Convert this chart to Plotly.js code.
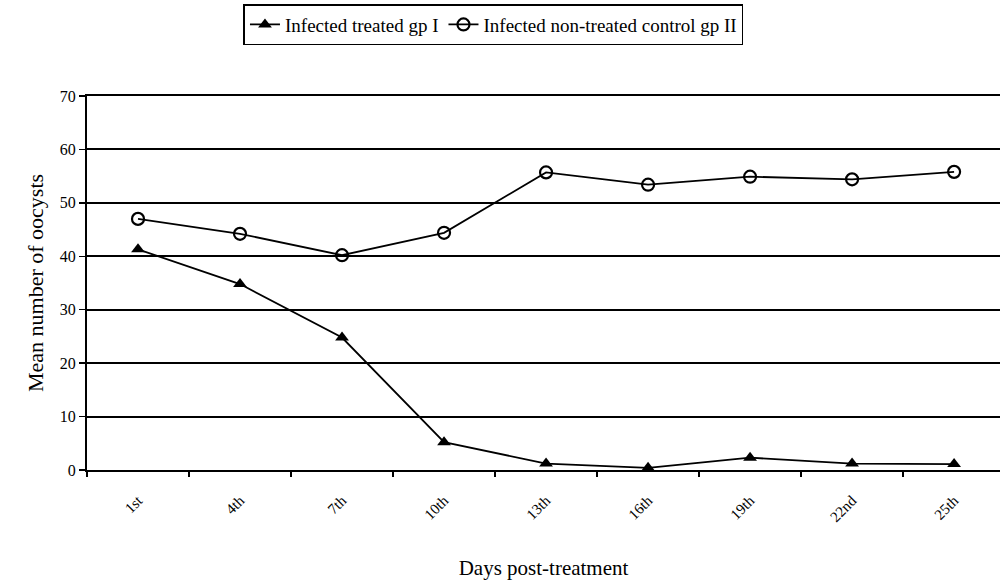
<!DOCTYPE html>
<html>
<head>
<meta charset="utf-8">
<script src="https://cdn.plot.ly/plotly-3.0.1.min.js"></script>
<style>html,body{margin:0;padding:0;background:#fff;}</style>
</head>
<body>
<div id="chart" style="width:1003px;height:588px;"></div>
<script>
const days = ["1st", "4th", "7th", "10th", "13th", "16th", "19th", "22nd", "25th"];
const treatedGpI = [41.3, 34.8, 24.8, 5.2, 1.2, 0.4, 2.3, 1.2, 1.1];
const controlGpII = [47.0, 44.2, 40.2, 44.4, 55.7, 53.4, 54.9, 54.4, 55.8];
const seriesNames = ["Infected treated gp I", "Infected non-treated control gp II"];

const serif = "'Liberation Serif', 'Times New Roman', serif";

const traces = [
  {
    x: days, y: treatedGpI, name: seriesNames[0], type: "scatter", mode: "lines+markers",
    line: {color: "#000", width: 1.8},
    marker: {symbol: "triangle-up", size: 12, color: "#000"}
  },
  {
    x: days, y: controlGpII, name: seriesNames[1], type: "scatter", mode: "lines+markers",
    line: {color: "#000", width: 1.8},
    marker: {symbol: "circle-open", size: 12, color: "#000", line: {width: 2.2, color: "#000"}}
  }
];

const layout = {
  width: 1003, height: 588,
  margin: {l: 87, r: 3, t: 96, b: 118},
  paper_bgcolor: "#fff", plot_bgcolor: "#fff",
  font: {family: serif, color: "#000", size: 15},
  showlegend: true,
  legend: {
    orientation: "h", x: 0.492, xref: "container", xanchor: "center",
    y: 0.993, yref: "container", yanchor: "top",
    bordercolor: "#000", borderwidth: 1.5, bgcolor: "#fff",
    font: {family: serif, size: 19, color: "#000"},
    itemwidth: 30, tracegroupgap: 0
  },
  xaxis: {
    type: "category", range: [-0.5, 8.45],
    tickangle: -45, tickson: "boundaries", ticks: "outside", ticklen: 5, tickwidth: 1.5, tickcolor: "#000",
    tickfont: {family: serif, size: 15, color: "#000"},
    ticklabelstandoff: 14,
    showgrid: false, zeroline: false, showline: true, mirror: true, linecolor: "#000", linewidth: 2,
    title: {text: "Days post-treatment", font: {family: serif, size: 21, color: "#000"}, standoff: 36}
  },
  yaxis: {
    range: [0, 70], dtick: 10, tick0: 0,
    ticks: "outside", ticklen: 6, tickwidth: 1.5, tickcolor: "#000",
    tickfont: {family: serif, size: 16, color: "#000"},
    showgrid: true, gridcolor: "#000", gridwidth: 2,
    zeroline: false, showline: true, linecolor: "#000", linewidth: 2,
    title: {text: "Mean number of oocysts", font: {family: serif, size: 22, color: "#000"}, standoff: 10}
  }
};

Plotly.newPlot("chart", traces, layout, {displayModeBar: false, staticPlot: true});
</script>
</body>
</html>
